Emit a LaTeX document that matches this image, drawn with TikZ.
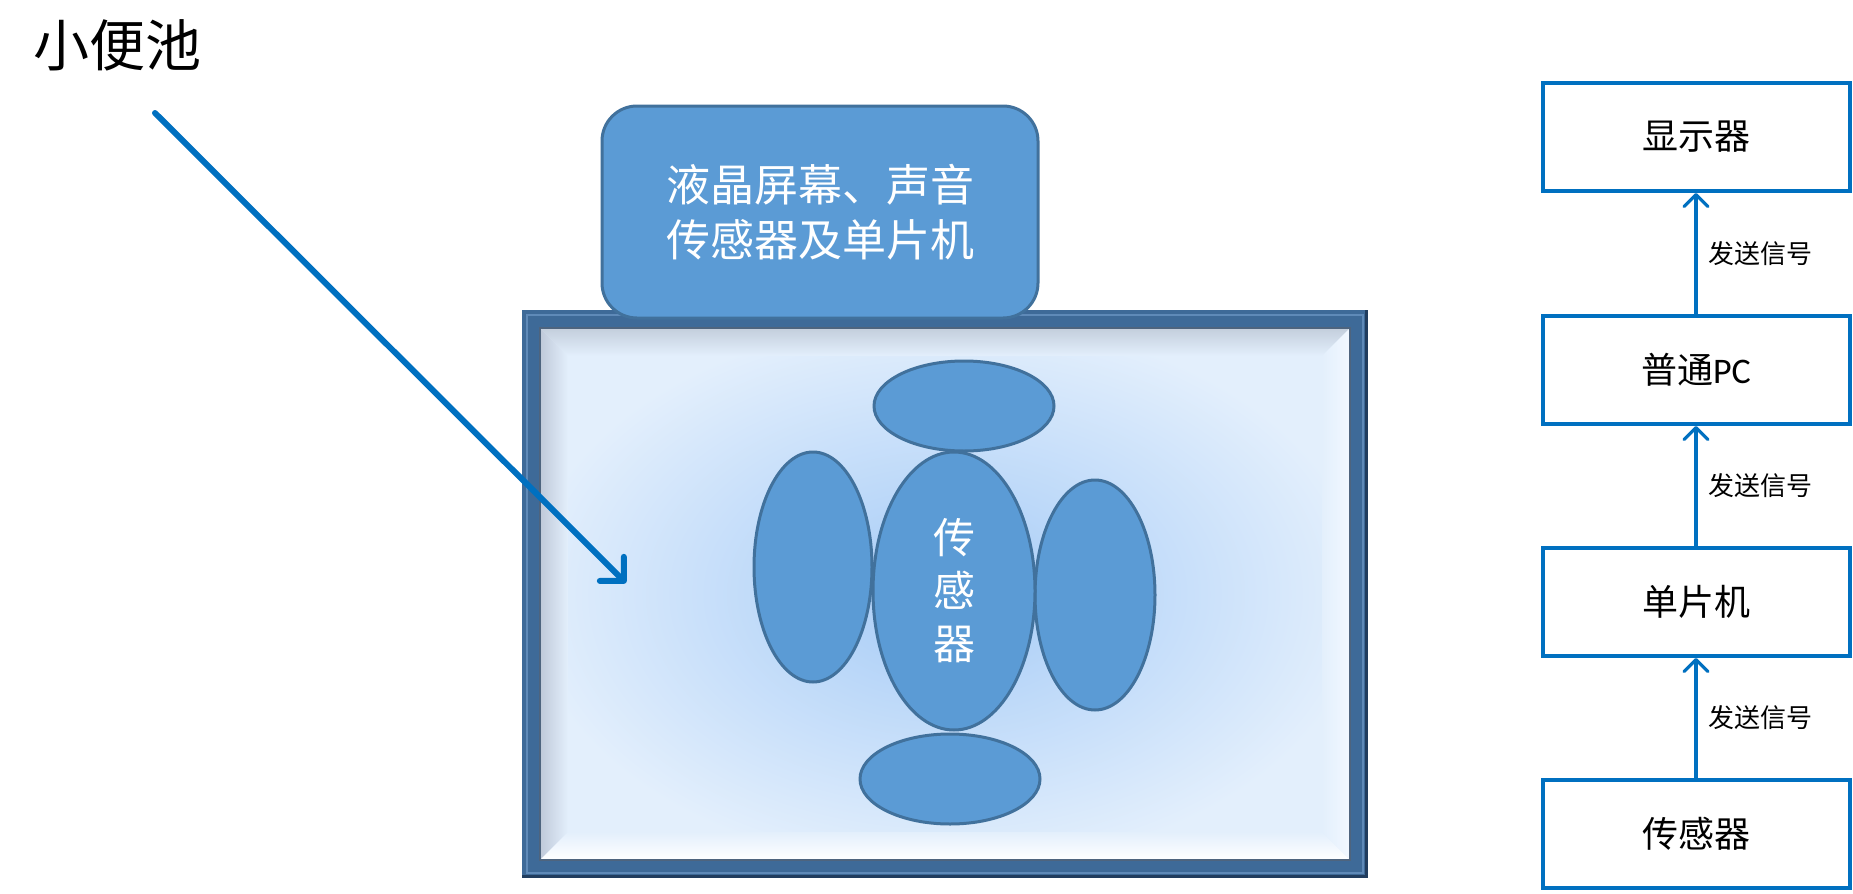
\documentclass[tikz,border=0pt]{standalone}
\usepackage{fontspec}
\newfontfamily\cjk{Noto Sans CJK SC}
\newfontfamily\calib{Carlito}
\usetikzlibrary{arrows.meta,shapes.geometric}
\definecolor{lineblue}{HTML}{0070C0}
\definecolor{shapefill}{HTML}{5B9BD5}
\definecolor{shapeedge}{HTML}{41719C}
\definecolor{framemid}{HTML}{3E6A98}
\definecolor{framelight}{HTML}{5F8AB8}
\definecolor{framedark}{HTML}{213D5E}
\definecolor{poolin}{HTML}{B3D3F8}
\definecolor{poolout}{HTML}{E3EFFC}
\definecolor{bevtop}{HTML}{C3CEDC}
\definecolor{bevleft}{HTML}{BFC9D9}
\definecolor{bevright}{HTML}{F2F8FF}
\pgfdeclareradialshading{pool}{\pgfpoint{0bp}{0bp}}{color(0bp)=(poolin); color(6bp)=(poolin); color(26bp)=(poolout); color(50bp)=(poolout)}
\tikzset{
  chainbox/.style={draw=lineblue, line width=4pt, fill=white, minimum width=307pt, minimum height=108pt, inner sep=0pt, font=\fontsize{36}{43}\selectfont\cjk},
  sigarrow/.style={draw=lineblue, line width=3.2pt, -{Straight Barb[length=12pt,width=24pt,round]}},
  siglabel/.style={font=\fontsize{26}{30}\selectfont\cjk, inner sep=0pt, anchor=west},
  blob/.style={ellipse, draw=shapeedge, line width=3pt, fill=shapefill, inner sep=0pt},
}
\begin{document}
\begin{tikzpicture}[x=1pt,y=-1pt]
\useasboundingbox (0,0) rectangle (1853,894);
\fill[white] (0,0) rectangle (1853,894);

% title
\node[font=\fontsize{56}{60}\selectfont\cjk, inner sep=0pt] (title) at (118,45) {小便池};

% pool frame
\fill[framemid] (522,310) rectangle (1368,878);
\draw[framelight, line width=2pt] (527,315) rectangle (1363,873);
\draw[framedark, line width=3pt] (1366,310) -- (1366,876) -- (522,876);
\shade[shading=pool] (540,328) rectangle (1350,860);
\shade[top color=bevtop, bottom color=poolout] (540,328) -- (1350,328) -- (1322,356) -- (568,356) -- cycle;
\shade[left color=bevleft, right color=poolout] (540,328) -- (568,356) -- (568,832) -- (540,860) -- cycle;
\shade[bottom color=white, top color=poolout] (540,860) -- (568,832) -- (1322,832) -- (1350,860) -- cycle;
\shade[right color=bevright, left color=poolout] (1350,328) -- (1350,860) -- (1322,832) -- (1322,356) -- cycle;
\draw[framedark!80, line width=2pt] (540,328) rectangle (1350,860);

% unit on top
\node[draw=shapeedge, line width=3pt, fill=shapefill, rounded corners=35pt,
      minimum width=436pt, minimum height=212pt, inner sep=0pt, align=center,
      text=white, font=\fontsize{44}{55}\selectfont\cjk] (unit) at (820,212)
      {液晶屏幕、声音\\传感器及单片机};

% sensor blobs
\node[blob, minimum width=180pt, minimum height=90pt] (etop) at (964,406) {};
\node[blob, minimum width=118pt, minimum height=230pt] (eleft) at (813,567) {};
\node[blob, minimum width=120pt, minimum height=230pt] (eright) at (1095,595) {};
\node[blob, minimum width=180pt, minimum height=90pt] (ebot) at (950,779) {};
\node[blob, minimum width=162pt, minimum height=278pt, align=center, text=white,
      font=\fontsize{42}{53}\selectfont\cjk] (ecenter) at (954,591) {传\\感\\器};

% pointer arrow
\coordinate (arrS) at (155,113);
\coordinate (arrE) at (626,583);
\draw[lineblue, line width=6pt, line cap=round, -{Straight Barb[length=17pt,width=34pt,round]}] (arrS) -- (arrE);

% signal chain
\node[chainbox] (disp) at (1696,137) {显示器};
\node[chainbox] (pc) at (1696,370) {普通{\calib PC}};
\node[chainbox] (mcu) at (1696,602) {单片机};
\node[chainbox] (sens) at (1696,834) {传感器};

\draw[sigarrow] (pc.north) -- node[siglabel, pos=0.5, xshift=11pt] {发送信号} (disp.south);
\draw[sigarrow] (mcu.north) -- node[siglabel, pos=0.5, xshift=11pt] {发送信号} (pc.south);
\draw[sigarrow] (sens.north) -- node[siglabel, pos=0.5, xshift=11pt] {发送信号} (mcu.south);
\end{tikzpicture}
\end{document}
